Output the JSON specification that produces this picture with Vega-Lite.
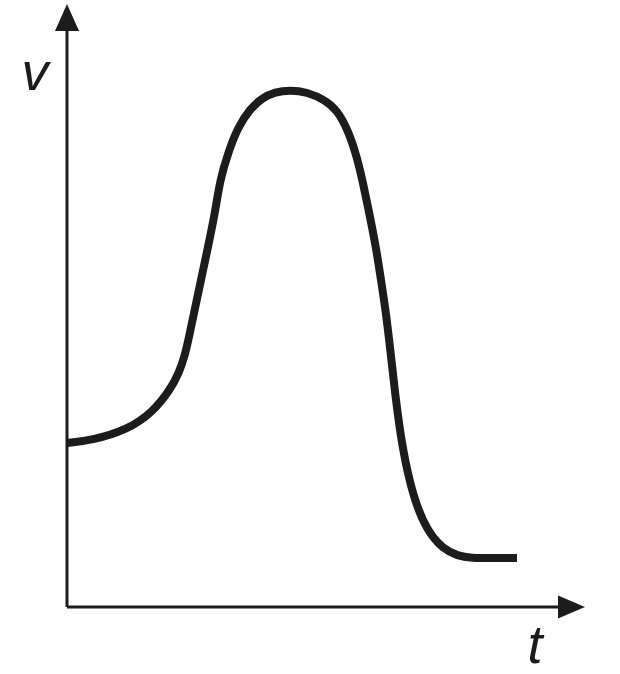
{
  "$schema": "https://vega.github.io/schema/vega-lite/v6.json",
  "width": 620,
  "height": 674,
  "autosize": {"type": "fit", "contains": "padding"},
  "padding": 0,
  "background": "white",
  "config": {"view": {"stroke": null}},
  "encoding": {
    "x": {"field": "t", "type": "quantitative", "scale": {"domain": [-67, 553], "nice": false, "zero": false}, "axis": null},
    "y": {"field": "v", "type": "quantitative", "scale": {"domain": [-67, 607], "nice": false, "zero": false}, "axis": null}
  },
  "layer": [
    {
      "data": {"values": [
        {"axis": "v", "t": 0, "v": 0}, {"axis": "v", "t": 0, "v": 582},
        {"axis": "t", "t": 0, "v": 0}, {"axis": "t", "t": 497, "v": 0}
      ]},
      "mark": {"type": "line", "color": "#1c1c1c", "strokeWidth": 3, "strokeCap": "butt"},
      "encoding": {"detail": {"field": "axis"}}
    },
    {
      "data": {"values": [{"t": 0, "v": 589.5}]},
      "mark": {"type": "point", "shape": "M0,-1L-0.89,1L0.89,1Z", "size": 729, "filled": true, "color": "#1c1c1c", "opacity": 1}
    },
    {
      "data": {"values": [{"t": 504.5, "v": 0}]},
      "mark": {"type": "point", "shape": "M1,0L-1,-0.85L-1,0.85Z", "size": 729, "filled": true, "color": "#1c1c1c", "opacity": 1}
    },
    {
      "data": {"values": [
        {"t": 0, "v": 164}, {"t": 26, "v": 167}, {"t": 60, "v": 177}, {"t": 86, "v": 195},
        {"t": 103, "v": 217}, {"t": 112, "v": 234}, {"t": 118, "v": 252}, {"t": 122, "v": 270},
        {"t": 127, "v": 294},
        {"t": 134, "v": 327}, {"t": 141, "v": 360}, {"t": 148, "v": 394}, {"t": 153, "v": 427},
        {"t": 161, "v": 454}, {"t": 171, "v": 480}, {"t": 183, "v": 498}, {"t": 195, "v": 509},
        {"t": 208, "v": 515}, {"t": 223, "v": 517}, {"t": 240, "v": 515}, {"t": 258, "v": 507},
        {"t": 270, "v": 497}, {"t": 281, "v": 477}, {"t": 290, "v": 450}, {"t": 296, "v": 424},
        {"t": 301, "v": 400}, {"t": 309, "v": 360}, {"t": 314, "v": 327}, {"t": 319, "v": 294},
        {"t": 323, "v": 260}, {"t": 328, "v": 214}, {"t": 335, "v": 160}, {"t": 346, "v": 110},
        {"t": 360, "v": 76}, {"t": 376, "v": 58}, {"t": 391, "v": 51}, {"t": 403, "v": 49},
        {"t": 430, "v": 49}, {"t": 450, "v": 49}
      ]},
      "mark": {"type": "line", "interpolate": "basis", "color": "#1c1c1c", "strokeWidth": 8, "strokeCap": "butt"}
    },
    {
      "data": {"values": [
        {"t": -32, "v": 517, "label": "v"},
        {"t": 468, "v": -56, "label": "t"}
      ]},
      "mark": {"type": "text", "font": "Liberation Sans", "fontStyle": "italic", "fontSize": 54, "align": "center", "baseline": "alphabetic", "color": "#1c1c1c"},
      "encoding": {"text": {"field": "label"}}
    }
  ]
}
